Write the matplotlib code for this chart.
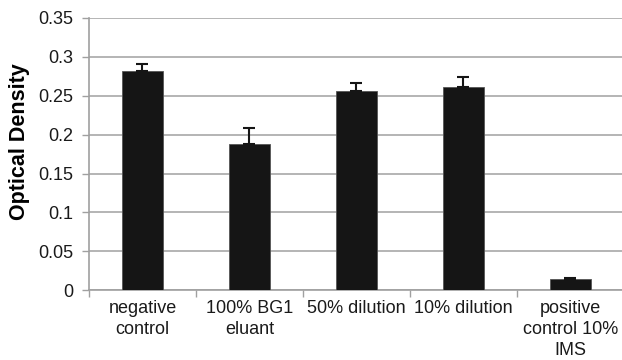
import matplotlib
matplotlib.use("Agg")
import matplotlib.pyplot as plt
import numpy as np

plt.rcParams['font.family'] = ['Liberation Sans', 'DejaVu Sans']

# data
categories = ["negative\ncontrol", "100% BG1\neluant", "50% dilution", "10% dilution", "positive\ncontrol 10%\nIMS"]
density = [0.282, 0.188, 0.2565, 0.2615, 0.0142]
err_up = [0.009, 0.0205, 0.0105, 0.012, 0.0015]

fig = plt.figure(figsize=(6.22, 3.6), dpi=100)
ax = fig.add_axes([0.143, 0.194, 0.86, 0.756])

x = np.arange(len(categories))
ax.bar(x, density, width=0.39, color='#151515', edgecolor='#555555', linewidth=0.6, zorder=3)
ax.errorbar(x, density, yerr=[np.zeros(len(err_up)), err_up], fmt='none',
            ecolor='#151515', elinewidth=1.5, capsize=4, capthick=1.5, zorder=4)

ax.set_xlim(-0.5, len(categories) - 0.5)
ax.set_ylim(0, 0.35)
ax.set_yticks(np.arange(0, 0.351, 0.05))
ax.set_yticklabels(['0', '0.05', '0.1', '0.15', '0.2', '0.25', '0.3', '0.35'])
ax.set_xticks(x)
ax.set_xticklabels(categories, linespacing=1.3)
ax.set_xticks(np.arange(-0.5, len(categories), 1.0), minor=True)
ax.tick_params(axis='x', which='major', length=0, pad=7, labelsize=13)
ax.tick_params(axis='x', which='minor', length=5, color='#a0a0a0', width=1)
ax.tick_params(axis='y', length=5, color='#a0a0a0', width=1, labelsize=13, pad=6)
for lbl in ax.get_xticklabels() + ax.get_yticklabels():
    lbl.set_color('#1a1a1a')

ax.yaxis.grid(True, color='#a8a8a8', linewidth=1.2, zorder=0)
ax.set_axisbelow(True)
for s in ['top', 'right']:
    ax.spines[s].set_visible(False)
for s in ['left', 'bottom']:
    ax.spines[s].set_color('#a0a0a0')
    ax.spines[s].set_linewidth(1.2)

ax.set_ylabel('Optical Density', fontsize=15.5, fontweight='bold')
ax.yaxis.set_label_coords(-0.11, 0.545)

fig.savefig('out.png', dpi=100)
